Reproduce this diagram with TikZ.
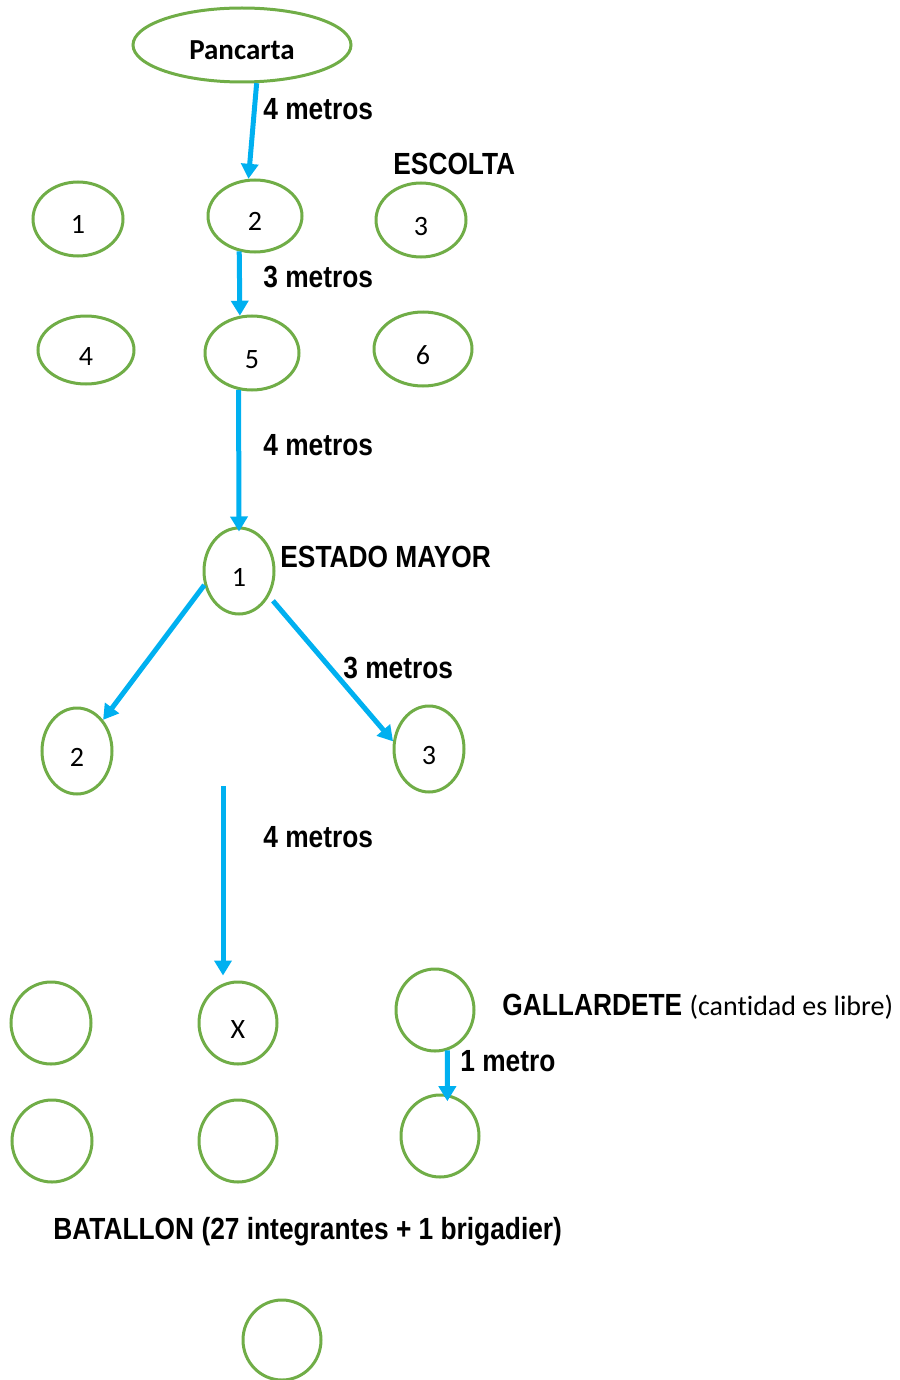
\documentclass[tikz,border=0pt]{standalone}
\usepackage{fontspec}
\usetikzlibrary{arrows.meta,shapes.geometric}
\newfontfamily\carl[Ligatures=NoCommon]{Carlito}
\newfontfamily\narrowsans[FakeStretch=0.86]{Liberation Sans}
\definecolor{grn}{HTML}{70AD47}
\definecolor{sky}{HTML}{00B0F0}
\tikzset{
	circ/.style={ellipse, draw=grn, line width=1.5pt, inner sep=0pt, text height=15pt, text depth=0pt, font=\carl\fontsize{14}{16}\selectfont},
	arr/.style={draw=sky, line width=2.5pt, -{Triangle[length=7.5pt,width=8.5pt]}},
	lbl/.style={anchor=base west, inner sep=0pt, font=\narrowsans\bfseries\fontsize{15.3}{18}\selectfont},
}

\begin{document}
\begin{tikzpicture}[x=0.5pt, y=-0.5pt]
			%%%%% START %%%%%
			\clip (0,0) rectangle (899,1380);
			
			% pancarta y escolta
			\node[circ, minimum width=109pt, minimum height=37pt, font=\carl\bfseries\fontsize{14.5}{17}\selectfont] (pan) at (242,45) {Pancarta};
			\node[circ, minimum width=45pt, minimum height=37pt] (e1) at (78,219) {1};
			\node[circ, minimum width=47pt, minimum height=36pt] (e2) at (255,216) {2};
			\node[circ, minimum width=45pt, minimum height=37pt] (e3) at (421,220) {3};
			\node[circ, minimum width=48pt, minimum height=34pt] (e4) at (86,350) {4};
			\node[circ, minimum width=47pt, minimum height=37pt] (e5) at (252,353) {5};
			\node[circ, minimum width=49pt, minimum height=37pt] (e6) at (423,349) {6};
			
			% estado mayor
			\node[circ, minimum width=35pt, minimum height=43pt] (m1) at (239,571) {1};
			\node[circ, minimum width=35pt, minimum height=43pt] (m2) at (77,751) {2};
			\node[circ, minimum width=35pt, minimum height=43pt] (m3) at (429,749) {3};
			
			% batallon y gallardete
			\node[circ, minimum width=40pt, minimum height=41pt] (b1) at (51,1023) {};
			\node[circ, minimum width=39pt, minimum height=41pt] (bX) at (238,1023) {X};
			\node[circ, minimum width=39pt, minimum height=41pt] (g1) at (435,1010) {};
			\node[circ, minimum width=40pt, minimum height=41pt] (b2) at (52,1141) {};
			\node[circ, minimum width=39pt, minimum height=41pt] (b3) at (238,1141) {};
			\node[circ, minimum width=39pt, minimum height=41pt] (g2) at (440,1136) {};
			\node[circ, minimum width=39pt, minimum height=40pt] (br) at (282,1340) {};
			
			% flechas
			\draw[arr] (pan.-69) -- (e2.100);
			\draw[arr] (e2.246) -- (e5.108);
			\draw[arr, shorten >=-2.5pt] (e5.250) -- (m1.north);
			\draw[arr] (m1.202) -- (m2.50);
			\draw[arr, shorten <=3pt] (m1.320) -- (m3.168);
			\coordinate (vtop) at (223,786);
			\draw[arr, shorten >=2.5pt] (vtop) -- (vtop |- bX.north);
			\draw[arr, shorten >=-3.5pt] (g1.287) -- (g2.80);
			
			% textos
			\node[lbl] (d1) at (263,120) {4 metros};
			\node[lbl] (esc) at (393,175) {ESCOLTA};
			\node[lbl] (d2) at (263,287) {3 metros};
			\node[lbl] (d3) at (263,455) {4 metros};
			\node[lbl] (em) at (280,567) {ESTADO MAYOR};
			\node[lbl] (d4) at (343,678) {3 metros};
			\node[lbl] (d5) at (263,847) {4 metros};
			\node[lbl] (gal) at (502,1015) {GALLARDETE {\carl\mdseries\fontsize{14}{17}\selectfont (cantidad es libre)}};
			\node[lbl] (d6) at (460,1071) {1 metro};
			\node[lbl] (bat) at (53,1239) {BATALLON (27 integrantes + 1 brigadier)};
			
			%%%%% END %%%%%
\end{tikzpicture}
\end{document}
